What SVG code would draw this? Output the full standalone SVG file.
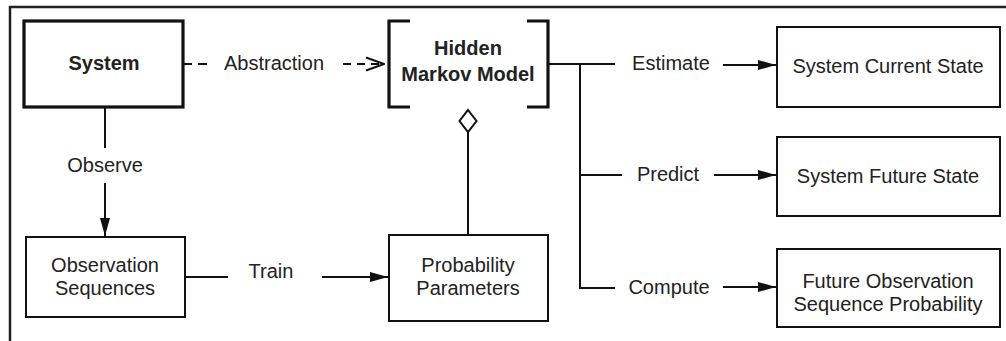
<svg xmlns="http://www.w3.org/2000/svg" width="1006" height="341" viewBox="0 0 1006 341">
<style>
text{font-family:"Liberation Sans",Arial,sans-serif;font-size:20px;fill:#222;text-anchor:middle}
.b{font-weight:bold}
.box{fill:#fff;stroke:#111;stroke-width:2}
.thick{fill:#fff;stroke:#111;stroke-width:3.2}
.ln{fill:none;stroke:#111;stroke-width:2}
.br{fill:none;stroke:#111;stroke-width:3.2}
</style>
<defs>
<marker id="ah" markerWidth="18" markerHeight="12" refX="18" refY="6" orient="auto" markerUnits="userSpaceOnUse">
<path d="M0,1 L18,6 L0,11 Z" fill="#111"/>
</marker>
<marker id="oh" markerWidth="20" markerHeight="16" refX="19" refY="8" orient="auto" markerUnits="userSpaceOnUse">
<path d="M1,1.5 L19,8 L1,14.5" fill="none" stroke="#111" stroke-width="2"/>
</marker>
</defs>
<g id="frame">
<path d="M10,341 L10,7 L1006,7" fill="none" stroke="#222" stroke-width="2.5"/>
</g>
<g id="connectors">
<path class="ln" d="M183,64 L212,64" stroke-dasharray="9,6"/>
<text x="274" y="70">Abstraction</text>
<path class="ln" d="M343,64 L384,64" stroke-dasharray="8,6" marker-end="url(#oh)"/>
<path class="ln" d="M105,107 L105,148"/>
<text x="105" y="172">Observe</text>
<path class="ln" d="M105,183 L105,236" marker-end="url(#ah)"/>
<path class="ln" d="M185,277 L228,277"/>
<text x="271" y="278">Train</text>
<path class="ln" d="M322,277 L388,277" marker-end="url(#ah)"/>
<path d="M468,110 L476.5,121 L468,132 L459.5,121 Z" fill="#fff" stroke="#111" stroke-width="2"/>
<path class="ln" d="M468,132 L468,235"/>
<path class="ln" d="M548,64 L615,64 M580,64 L580,288 L615,288 M580,175 L622,175"/>
<text x="671" y="70">Estimate</text>
<path class="ln" d="M723,65 L776,65" marker-end="url(#ah)"/>
<text x="668" y="181">Predict</text>
<path class="ln" d="M714,175 L776,175" marker-end="url(#ah)"/>
<text x="669" y="294">Compute</text>
<path class="ln" d="M723,287 L776,287" marker-end="url(#ah)"/>
</g>
<g id="system">
<rect class="thick" x="24" y="21" width="159" height="86"/>
<text class="b" x="104" y="70">System</text>
</g>
<g id="hmm">
<path class="br" d="M410,21 L389,21 L389,107 L410,107 M527,21 L548,21 L548,107 L527,107"/>
<text class="b" x="468" y="55">Hidden</text>
<text class="b" x="468" y="81">Markov Model</text>
</g>
<g id="observation">
<rect class="box" x="26" y="237" width="159" height="80"/>
<text x="105" y="272">Observation</text>
<text x="105" y="295">Sequences</text>
</g>
<g id="probability">
<rect class="box" x="389" y="235" width="159" height="86"/>
<text x="468" y="272">Probability</text>
<text x="468" y="295">Parameters</text>
</g>
<g id="current">
<rect class="box" x="777" y="27" width="223" height="80"/>
<text x="888" y="73">System Current State</text>
</g>
<g id="future">
<rect class="box" x="777" y="137" width="223" height="79"/>
<text x="888" y="183">System Future State</text>
</g>
<g id="futureobs">
<rect class="box" x="777" y="249" width="223" height="78"/>
<text x="888" y="288">Future Observation</text>
<text x="888" y="311">Sequence Probability</text>
</g>
</svg>
